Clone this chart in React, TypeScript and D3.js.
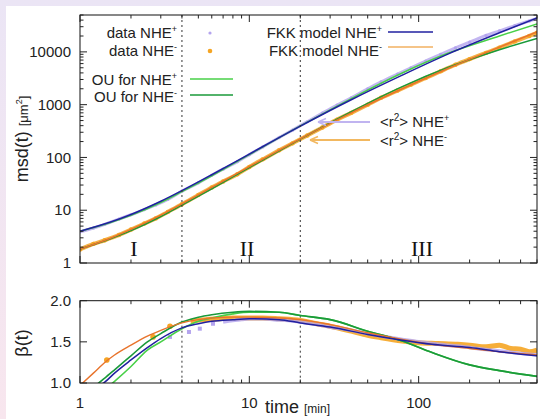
import React from "react";
import * as d3 from "d3";

// ---------- data ----------
const T_MODEL = [1, 1.5, 2, 3, 4, 6, 10, 20, 40, 80, 150, 300, 500];
const MSD_FKK_PLUS = [4.0, 5.9, 8.3, 14.8, 23.5, 47, 116, 392, 1240, 3630, 9180, 23000, 44000];
const MSD_FKK_MINUS = [1.84, 2.92, 4.33, 8.1, 13.2, 27, 67, 225, 700, 2000, 4900, 12300, 24000];
const MSD_OU_PLUS = [4.0, 5.8, 8.0, 14.0, 22.5, 45, 113, 395, 1306, 3990, 9500, 20000, 34000];
const MSD_OU_MINUS = [1.84, 2.85, 4.1, 7.6, 12.5, 25.5, 64, 222, 735, 2200, 5100, 11000, 18000];

const T_DATA = [1, 1.2, 1.4, 1.7, 2, 2.4, 2.8, 3.3, 4, 5, 6, 7, 8.5, 10, 12, 15, 18, 22, 27, 33, 40, 50, 60, 75, 90, 110, 135, 165, 200, 250, 300, 370, 450, 500];
const MSD_DATA_PLUS = [3.9, 4.6, 5.4, 6.8, 8.2, 10.3, 12.6, 16, 23, 33, 46, 60, 83, 113, 158, 238, 330, 475, 690, 985, 1350, 2000, 2700, 3800, 5000, 6700, 9000, 11900, 15300, 20500, 25000, 31500, 38500, 43000];
const MSD_DATA_MINUS = [1.8, 2.3, 2.7, 3.4, 4.3, 5.6, 7.0, 9.3, 13, 19.5, 27, 35, 48, 66, 92, 137, 185, 260, 370, 520, 700, 1000, 1350, 1850, 2400, 3200, 4300, 5700, 7300, 9600, 12000, 15800, 20000, 23000];

const T_BETA = [1, 1.2, 1.4, 1.6, 2, 2.5, 3, 4, 5, 6, 8, 10, 15, 20, 30, 50, 80, 120, 200, 300, 500];
const BETA_FKK_MINUS = [0.97, 1.12, 1.25, 1.34, 1.46, 1.57, 1.64, 1.73, 1.77, 1.79, 1.8, 1.8, 1.79, 1.77, 1.71, 1.61, 1.53, 1.47, 1.42, 1.38, 1.34];
const BETA_FKK_PLUS = [0.85, 0.93, 1.01, 1.12, 1.28, 1.43, 1.54, 1.67, 1.72, 1.75, 1.77, 1.78, 1.77, 1.73, 1.68, 1.59, 1.52, 1.47, 1.43, 1.38, 1.33];
const BETA_OU_MINUS = [0.85, 0.95, 1.06, 1.16, 1.33, 1.5, 1.6, 1.74, 1.8, 1.83, 1.86, 1.87, 1.86, 1.82, 1.77, 1.63, 1.51, 1.37, 1.22, 1.15, 1.08];
const BETA_OU_PLUS = [0.7, 0.8, 0.92, 1.02, 1.2, 1.4, 1.5, 1.66, 1.75, 1.79, 1.84, 1.86, 1.86, 1.82, 1.77, 1.63, 1.51, 1.37, 1.22, 1.15, 1.08];

// sparse early beta data points (markers)
const T_BPTS_PLUS = [3.4, 4.4, 5.1, 6.1];
const BPTS_PLUS = [1.56, 1.62, 1.66, 1.72];
const T_BPTS_MINUS = [1.44, 2.7, 3.4];
const BPTS_MINUS = [1.28, 1.56, 1.69];
// dense beta data (bands)
const T_BDATA_PLUS = [7, 8, 9, 10, 12, 14, 17, 20, 25, 30, 40, 50, 60, 80, 100, 130, 170, 220, 300, 400, 500];
const BDATA_PLUS = [1.74, 1.76, 1.77, 1.78, 1.78, 1.77, 1.76, 1.74, 1.71, 1.68, 1.64, 1.6, 1.57, 1.53, 1.5, 1.47, 1.45, 1.42, 1.39, 1.36, 1.34];
const T_BDATA_MINUS = [4.5, 5.5, 6.5, 8, 10, 12, 15, 20, 25, 30, 40, 50, 60, 80, 100, 130, 170, 200, 250, 300, 350, 400, 450, 500];
const BDATA_MINUS = [1.75, 1.77, 1.78, 1.79, 1.79, 1.79, 1.78, 1.76, 1.72, 1.69, 1.63, 1.58, 1.55, 1.51, 1.49, 1.48, 1.47, 1.46, 1.44, 1.46, 1.42, 1.41, 1.38, 1.4];

const X_TICKS = [1, 10, 100];
const Y_TOP_TICKS = [1, 10, 100, 1000, 10000];
const Y_BOT_TICKS = [1.0, 1.5, 2.0];

// ---------- styling ----------
const FONT = "'Liberation Sans', Arial, Helvetica, sans-serif";
const SERIF = "'Liberation Serif', 'Times New Roman', serif";
const C_BLUE = "#2020a0";
const C_ORANGE = "#e8742c";
const C_OU_PLUS = "#48d048";
const C_OU_MINUS = "#1a9a3a";
const C_DATA_PLUS = "#b4a4ee";
const C_DATA_MINUS = "#f5a524";

const L = 80, R = 537;
const TOP_T = 15, TOP_B = 263;
const BOT_T = 300.7, BOT_B = 383;

export default function App() {
  const x = d3.scaleLog().domain([1, 500]).range([L, R]);
  const yTop = d3.scaleLog().domain([1, 50000]).range([TOP_B, TOP_T]);
  const yBot = d3.scaleLinear().domain([1, 2]).range([BOT_B, BOT_T]);

  const lineTop = (ts: number[], vs: number[]) =>
    d3.line<number>().x((_, i) => x(ts[i])).y((v) => yTop(v)).curve(d3.curveMonotoneX)(vs) || "";
  const lineBot = (ts: number[], vs: number[]) =>
    d3.line<number>().x((_, i) => x(ts[i])).y((v) => yBot(v)).curve(d3.curveMonotoneX)(vs) || "";

  const xMinor: number[] = [];
  [1, 10, 100].forEach((d) => {
    for (let k = 2; k <= 9; k++) if (d * k <= 500) xMinor.push(d * k);
  });
  const yMinor: number[] = [];
  [1, 10, 100, 1000, 10000].forEach((d) => {
    for (let k = 2; k <= 9; k++) if (d * k <= 50000) yMinor.push(d * k);
  });

  const tickColor = "#222";

  return (
    <svg width={540} height={419} style={{ position: "fixed", left: 0, top: 0 }} fontFamily={FONT}>
      <defs>
        <linearGradient id="bg" x1="0" y1="0" x2="0" y2="1">
          <stop offset="0" stopColor="#ebe5f5" />
          <stop offset="1" stopColor="#f8e6ee" />
        </linearGradient>
        <clipPath id="clipTop">
          <rect x={L} y={TOP_T} width={R - L} height={TOP_B - TOP_T} />
        </clipPath>
        <clipPath id="clipBot">
          <rect x={L} y={BOT_T} width={R - L} height={BOT_B - BOT_T} />
        </clipPath>
      </defs>
      <rect width={540} height={419} fill="url(#bg)" />
      <rect x={6} y={6} width={534} height={413} fill="#fff" />

      {/* ---------------- TOP PANEL ---------------- */}
      <g clipPath="url(#clipTop)">
        <path d={lineTop(T_DATA, MSD_DATA_MINUS)} fill="none" stroke={C_DATA_MINUS} strokeWidth={4} opacity={0.85} />
        {T_DATA.map((t, i) => (
          <circle key={"dm" + i} cx={x(t)} cy={yTop(MSD_DATA_MINUS[i])} r={2.2} fill={C_DATA_MINUS} />
        ))}
        <path d={lineTop(T_DATA, MSD_DATA_PLUS)} fill="none" stroke={C_DATA_PLUS} strokeWidth={3} opacity={0.8} />
        {T_DATA.map((t, i) => (
          <circle key={"dp" + i} cx={x(t)} cy={yTop(MSD_DATA_PLUS[i])} r={1.6} fill={C_DATA_PLUS} />
        ))}
        <path d={lineTop(T_MODEL, MSD_OU_PLUS)} fill="none" stroke={C_OU_PLUS} strokeWidth={1.5} />
        <path d={lineTop(T_MODEL, MSD_OU_MINUS)} fill="none" stroke={C_OU_MINUS} strokeWidth={1.5} />
        <path d={lineTop(T_MODEL, MSD_FKK_PLUS)} fill="none" stroke={C_BLUE} strokeWidth={1.5} />
        <path d={lineTop(T_MODEL, MSD_FKK_MINUS)} fill="none" stroke={C_ORANGE} strokeWidth={1.5} />
      </g>

      {[4, 20].map((t) => (
        <g key={"v" + t}>
          <line x1={x(t)} x2={x(t)} y1={TOP_T} y2={TOP_B} stroke="#333" strokeDasharray="2,3" />
          <line x1={x(t)} x2={x(t)} y1={BOT_T} y2={BOT_B} stroke="#333" strokeDasharray="2,3" />
        </g>
      ))}

      <rect x={L} y={TOP_T} width={R - L} height={TOP_B - TOP_T} fill="none" stroke="#111" strokeWidth={1} />
      {Y_TOP_TICKS.map((v) => (
        <g key={"yt" + v}>
          <line x1={L} x2={L + 7} y1={yTop(v)} y2={yTop(v)} stroke={tickColor} />
          <line x1={R} x2={R - 7} y1={yTop(v)} y2={yTop(v)} stroke={tickColor} />
          <text x={71} y={yTop(v)} dy="0.35em" textAnchor="end" fontSize={15} fill="#222">
            {v}
          </text>
        </g>
      ))}
      {yMinor.map((v) => (
        <g key={"ym" + v}>
          <line x1={L} x2={L + 3.5} y1={yTop(v)} y2={yTop(v)} stroke={tickColor} />
          <line x1={R} x2={R - 3.5} y1={yTop(v)} y2={yTop(v)} stroke={tickColor} />
        </g>
      ))}
      {X_TICKS.map((v) => (
        <g key={"xt" + v}>
          <line x1={x(v)} x2={x(v)} y1={TOP_B} y2={TOP_B - 7} stroke={tickColor} />
          <line x1={x(v)} x2={x(v)} y1={TOP_T} y2={TOP_T + 7} stroke={tickColor} />
        </g>
      ))}
      {xMinor.map((v) => (
        <g key={"xm" + v}>
          <line x1={x(v)} x2={x(v)} y1={TOP_B} y2={TOP_B - 3.5} stroke={tickColor} />
          <line x1={x(v)} x2={x(v)} y1={TOP_T} y2={TOP_T + 3.5} stroke={tickColor} />
        </g>
      ))}

      <g fontFamily={SERIF} fontSize={22} textAnchor="middle" fill="#111">
        <text x={134} y={256}>I</text>
        <text x={247} y={256}>II</text>
        <text x={422} y={256}>III</text>
      </g>

      <g fontSize={15} fill="#222">
        <text x={177} y={38} textAnchor="end">
          data NHE<tspan dy={-6} fontSize={9}>+</tspan>
        </text>
        <text x={177} y={56} textAnchor="end">
          data NHE<tspan dy={-6} fontSize={9}>-</tspan>
        </text>
        <circle cx={210} cy={33} r={1.6} fill={C_DATA_PLUS} />
        <circle cx={210} cy={51} r={2.3} fill={C_DATA_MINUS} />
        <text x={177} y={85} textAnchor="end">
          OU for NHE<tspan dy={-6} fontSize={9}>+</tspan>
        </text>
        <text x={177} y={102} textAnchor="end">
          OU for NHE<tspan dy={-6} fontSize={9}>-</tspan>
        </text>
        <line x1={190} x2={233} y1={79} y2={79} stroke={C_OU_PLUS} strokeWidth={1.5} />
        <line x1={190} x2={233} y1={95} y2={95} stroke={C_OU_MINUS} strokeWidth={1.5} />
        <text x={382} y={38} textAnchor="end">
          FKK model NHE<tspan dy={-6} fontSize={9}>+</tspan>
        </text>
        <text x={382} y={56} textAnchor="end">
          FKK model NHE<tspan dy={-6} fontSize={9}>-</tspan>
        </text>
        <line x1={388} x2={433} y1={32} y2={32} stroke={C_BLUE} strokeWidth={1.5} />
        <line x1={388} x2={433} y1={47} y2={47} stroke="#f2b060" strokeWidth={1.5} />

        <line x1={318} x2={370} y1={122} y2={122} stroke="#c0b4f0" strokeWidth={2} />
        <path d="M318,122 l8,-3.5 M318,122 l8,3.5" stroke="#c0b4f0" strokeWidth={1.5} fill="none" />
        <line x1={310} x2={370} y1={140} y2={140} stroke="#f2b860" strokeWidth={2} />
        <path d="M310,140 l8,-3.5 M310,140 l8,3.5" stroke="#f2b860" strokeWidth={1.5} fill="none" />
        <text x={380} y={127}>
          &lt;r<tspan dy={-6} fontSize={10}>2</tspan>
          <tspan dy={6}>&gt; NHE</tspan>
          <tspan dy={-6} fontSize={9}>+</tspan>
        </text>
        <text x={380} y={146}>
          &lt;r<tspan dy={-6} fontSize={10}>2</tspan>
          <tspan dy={6}>&gt; NHE</tspan>
          <tspan dy={-6} fontSize={9}>-</tspan>
        </text>
      </g>

      <text transform="translate(28,139) rotate(-90)" textAnchor="middle" fontSize={18} fill="#222">
        msd(t) <tspan fontSize={13}>[μm</tspan>
        <tspan fontSize={9} dy={-6}>2</tspan>
        <tspan fontSize={13} dy={6}>]</tspan>
      </text>

      {/* ---------------- BOTTOM PANEL ---------------- */}
      <g clipPath="url(#clipBot)">
        <path d={lineBot(T_BDATA_MINUS, BDATA_MINUS)} fill="none" stroke={C_DATA_MINUS} strokeWidth={5} opacity={0.9} />
        {T_BPTS_MINUS.map((t, i) => (
          <circle key={"bm" + i} cx={x(t)} cy={yBot(BPTS_MINUS[i])} r={2.8} fill={C_DATA_MINUS} />
        ))}
        <path d={lineBot(T_BDATA_PLUS, BDATA_PLUS)} fill="none" stroke={C_DATA_PLUS} strokeWidth={3.5} opacity={0.8} />
        {T_BPTS_PLUS.map((t, i) => (
          <rect key={"bp" + i} x={x(t) - 2} y={yBot(BPTS_PLUS[i]) - 2} width={4} height={4} fill={C_DATA_PLUS} />
        ))}
        <path d={lineBot(T_BETA, BETA_OU_PLUS)} fill="none" stroke={C_OU_PLUS} strokeWidth={1.6} />
        <path d={lineBot(T_BETA, BETA_OU_MINUS)} fill="none" stroke={C_OU_MINUS} strokeWidth={1.6} />
        <path d={lineBot(T_BETA, BETA_FKK_MINUS)} fill="none" stroke={C_ORANGE} strokeWidth={1.4} />
        <path d={lineBot(T_BETA, BETA_FKK_PLUS)} fill="none" stroke={C_BLUE} strokeWidth={1.5} />
      </g>

      <rect x={L} y={BOT_T} width={R - L} height={BOT_B - BOT_T} fill="none" stroke="#111" strokeWidth={1} />
      {Y_BOT_TICKS.map((v) => (
        <g key={"yb" + v}>
          <line x1={L} x2={L + 7} y1={yBot(v)} y2={yBot(v)} stroke={tickColor} />
          <line x1={R} x2={R - 7} y1={yBot(v)} y2={yBot(v)} stroke={tickColor} />
          <text x={71} y={yBot(v)} dy="0.35em" textAnchor="end" fontSize={15} fill="#222">
            {v.toFixed(1)}
          </text>
        </g>
      ))}
      {X_TICKS.map((v) => (
        <g key={"xb" + v}>
          <line x1={x(v)} x2={x(v)} y1={BOT_B} y2={BOT_B - 7} stroke={tickColor} />
          <line x1={x(v)} x2={x(v)} y1={BOT_T} y2={BOT_T + 7} stroke={tickColor} />
          <text x={x(v)} y={408} textAnchor="middle" fontSize={15} fill="#222">
            {v}
          </text>
        </g>
      ))}
      {xMinor.map((v) => (
        <g key={"xbm" + v}>
          <line x1={x(v)} x2={x(v)} y1={BOT_B} y2={BOT_B - 3.5} stroke={tickColor} />
          <line x1={x(v)} x2={x(v)} y1={BOT_T} y2={BOT_T + 3.5} stroke={tickColor} />
        </g>
      ))}

      <text transform="translate(28,343) rotate(-90)" textAnchor="middle" fontSize={18} fill="#222">
        β(t)
      </text>
      <text x={265} y={413} fontSize={18} fill="#222">
        time <tspan fontSize={12}>[min]</tspan>
      </text>
    </svg>
  );
}
